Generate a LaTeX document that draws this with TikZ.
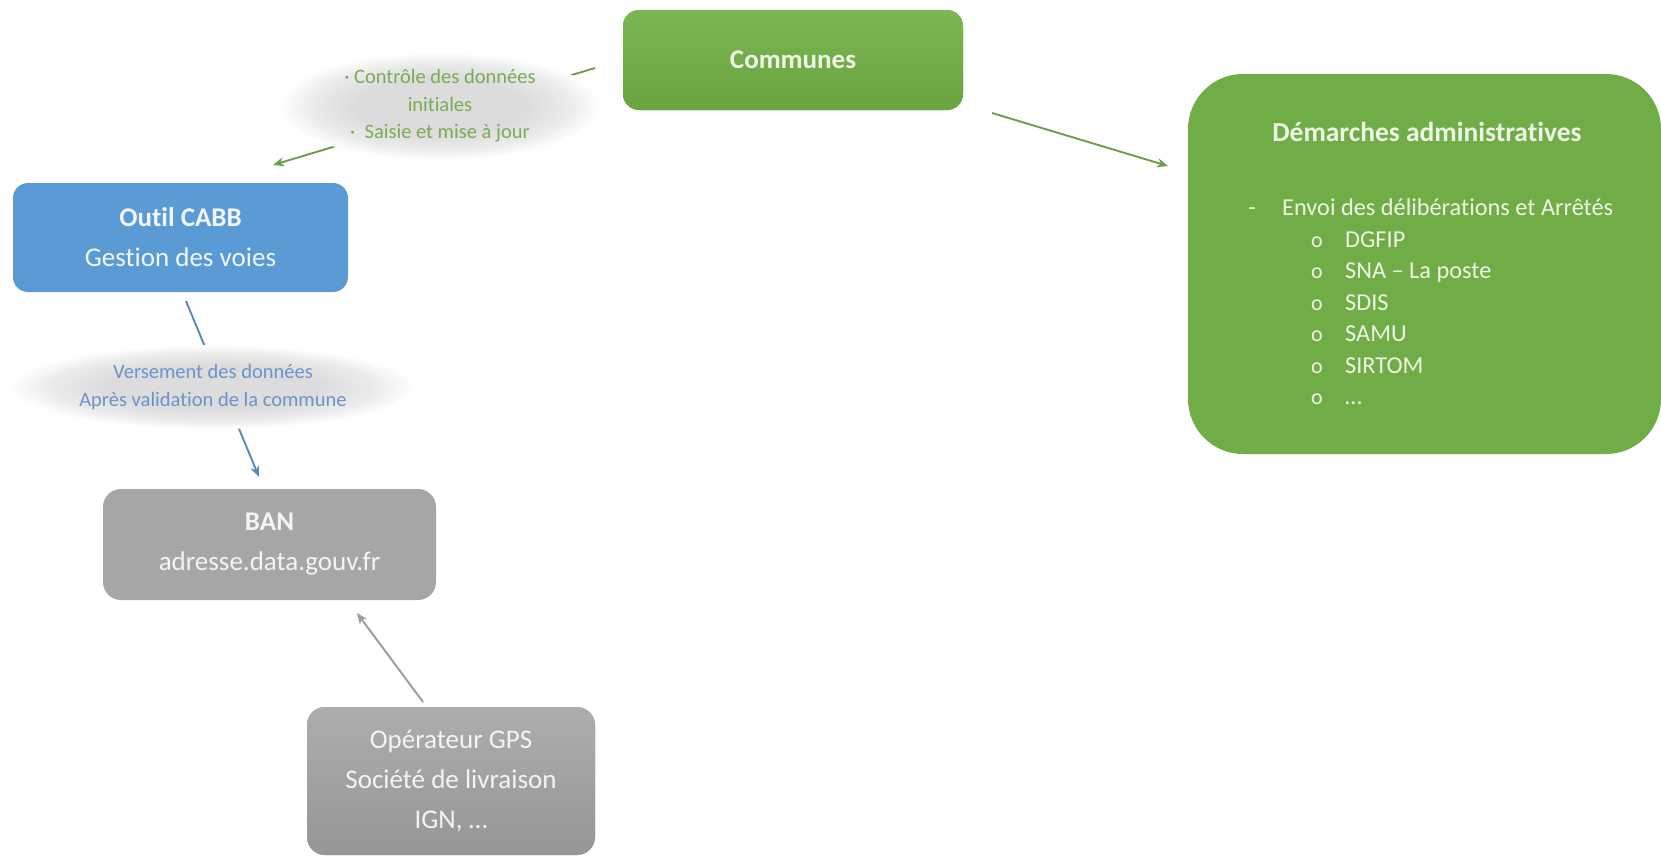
\documentclass[tikz,border=0pt]{standalone}
\usepackage{fontspec}
\setmainfont{Carlito}[Ligatures={NoCommon}]
\usetikzlibrary{shapes.geometric,arrows.meta,backgrounds}
\definecolor{ogreen}{HTML}{70AD47}
\definecolor{ogreenT}{HTML}{7DB654}
\definecolor{ogreenB}{HTML}{68A43F}
\definecolor{oblue}{HTML}{5B9BD5}
\definecolor{ogray}{HTML}{A6A6A6}
\definecolor{ograyT}{HTML}{ADADAD}
\definecolor{ograyB}{HTML}{969696}
\definecolor{gtxt}{HTML}{EEF6E6}
\definecolor{btxt}{HTML}{F2F6FB}
\definecolor{wtxt}{HTML}{F4F4F4}
\definecolor{ellgreen}{HTML}{78AC52}
\definecolor{ellblue}{HTML}{6A93CB}
\definecolor{agreen}{HTML}{6D9E4A}
\definecolor{ablue}{HTML}{5A88BD}
\definecolor{agray}{HTML}{9C9C9C}
\definecolor{glowc}{HTML}{DCDCDC}
\definecolor{glowm}{HTML}{EBEBEB}
\pgfdeclareradialshading{glow}{\pgfpoint{0bp}{0bp}}{color(0bp)=(glowc); color(13bp)=(glowc); color(20bp)=(glowm); color(25bp)=(white); color(50bp)=(white)}
\tikzset{
  boxbase/.style={rectangle, inner sep=0pt, align=center, font=\fontsize{27}{40}\selectfont},
  greenbox/.style={boxbase, rounded corners=16pt, fill=ogreen, text=gtxt},
  bluebox/.style={boxbase, rounded corners=15pt, fill=oblue, text=btxt},
  graybox/.style={boxbase, rounded corners=18pt, fill=ogray, text=wtxt},
  glowell/.style={ellipse, shading=glow, inner sep=0pt, align=center, font=\fontsize{20.5}{27.5}\selectfont},
  dtxt/.style={inner sep=0pt, text=gtxt, font=\fontsize{24.3}{30}\selectfont},
  bul/.style={inner sep=0pt, text=gtxt, font=\fontsize{22}{24}\selectfont},
  arr/.style={line width=1.9pt, -{Stealth[length=11pt,width=9pt]}}
}
\begin{document}
\begin{tikzpicture}[x=1pt,y=-1pt]
\useasboundingbox (0,0) rectangle (1661,857);

% boxes
\node[greenbox, top color=ogreenT, bottom color=ogreenB, minimum width=340pt, minimum height=100pt,
      font=\bfseries\fontsize{27}{40}\selectfont] (communes) at (793,60) {Communes};
\node[bluebox, minimum width=335pt, minimum height=109pt] (cabb) at (180.5,237.5)
      {\textbf{Outil CABB}\\Gestion des voies};
\node[graybox, minimum width=333pt, minimum height=111pt] (ban) at (269.5,544.5)
      {\textbf{BAN}\\adresse.data.gouv.fr};
\node[graybox, top color=ograyT, bottom color=ograyB, minimum width=288pt, minimum height=148pt] (gps) at (451,781)
      {Opérateur GPS\\Société de livraison\\IGN, …};
\node[greenbox, rounded corners=55pt, minimum width=473pt, minimum height=380pt] (dem) at (1424.5,264) {};

% texts in Démarches
\node[dtxt, anchor=base, font=\bfseries\fontsize{27.5}{30}\selectfont] (demtitle) at (1427,141.5) {Démarches administratives};
\node[dtxt, anchor=base] (dash) at (1252,215) {-};
\node[dtxt, anchor=base west] (envoi) at (1282,215) {Envoi des délibérations et Arrêtés};
\node[bul, anchor=base] (b1) at (1317,247) {o};
\node[dtxt, anchor=base west] (i1) at (1345,247) {DGFIP};
\node[bul, anchor=base] (b2) at (1317,278.5) {o};
\node[dtxt, anchor=base west] (i2) at (1345,278.5) {SNA – La poste};
\node[bul, anchor=base] (b3) at (1317,310) {o};
\node[dtxt, anchor=base west] (i3) at (1345,310) {SDIS};
\node[bul, anchor=base] (b4) at (1317,341.5) {o};
\node[dtxt, anchor=base west] (i4) at (1345,341.5) {SAMU};
\node[bul, anchor=base] (b5) at (1317,373) {o};
\node[dtxt, anchor=base west] (i5) at (1345,373) {SIRTOM};
\node[bul, anchor=base] (b6) at (1317,404.5) {o};
\node[dtxt, anchor=base west] (i6) at (1345,404.5) {…};

% label ellipses
\node[glowell, minimum width=322pt, minimum height=108pt, text=ellgreen] (lab1) at (440,106)
      {· Contrôle des données\\initiales\\·\ \ Saisie et mise à jour};
\node[glowell, minimum width=405pt, minimum height=84pt, text=ellblue] (lab2) at (213,387)
      {Versement des données\\Après validation de la commune};

% connector end points
\coordinate (a1s) at (595,68);
\coordinate (a1e) at (273,165);
\coordinate (a2s) at (992,113);
\coordinate (a2e) at (1168,166);
\coordinate (a3s) at (186,301);
\coordinate (a3e) at (259,477);
\coordinate (a4s) at (423,702);
\coordinate (a4e) at (357,613);

\begin{pgfonlayer}{background}
\fill[white] (0,0) rectangle (1661,857);
\draw[arr, draw=agreen, fill=agreen] (a1s) -- (a1e);
\draw[arr, draw=ablue, fill=ablue] (a3s) -- (a3e);
\end{pgfonlayer}
\draw[arr, draw=agreen, fill=agreen] (a2s) -- (a2e);
\draw[arr, draw=agray, fill=agray] (a4s) -- (a4e);
\end{tikzpicture}
\end{document}
